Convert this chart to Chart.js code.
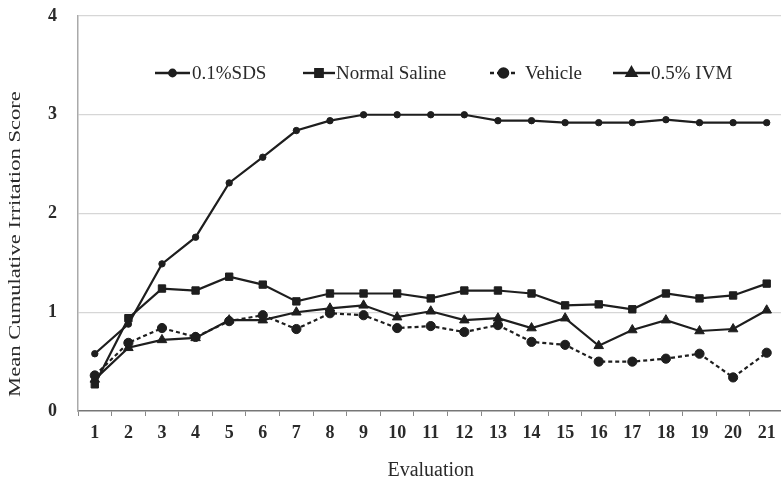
<!DOCTYPE html>
<html>
<head>
<meta charset="utf-8">
<script src="https://cdn.jsdelivr.net/npm/chart.js@4/dist/chart.umd.min.js"></script>
<style>
  html, body { margin: 0; padding: 0; background: #fff; overflow: hidden; }
  #wrap { width: 781px; height: 486px; overflow: hidden; }
</style>
</head>
<body>
<div id="wrap"><canvas id="irritation" width="790" height="486"></canvas></div>
<script>
const evaluations = ["1", "2", "3", "4", "5", "6", "7", "8", "9", "10", "11", "12", "13", "14", "15", "16", "17", "18", "19", "20", "21"];

const sds = [0.58, 0.88, 1.49, 1.76, 2.31, 2.57, 2.84, 2.94, 3.0, 3.0, 3.0, 3.0, 2.94, 2.94, 2.92, 2.92, 2.92, 2.95, 2.92, 2.92, 2.92];
const saline = [0.27, 0.94, 1.24, 1.22, 1.36, 1.28, 1.11, 1.19, 1.19, 1.19, 1.14, 1.22, 1.22, 1.19, 1.07, 1.08, 1.03, 1.19, 1.14, 1.17, 1.29];
const vehicle = [0.36, 0.69, 0.84, 0.75, 0.91, 0.97, 0.83, 0.99, 0.97, 0.84, 0.86, 0.80, 0.87, 0.70, 0.67, 0.50, 0.50, 0.53, 0.58, 0.34, 0.59];
const ivm = [0.32, 0.64, 0.72, 0.74, 0.92, 0.92, 1.00, 1.04, 1.07, 0.95, 1.01, 0.92, 0.94, 0.84, 0.94, 0.66, 0.82, 0.92, 0.81, 0.83, 1.02];

const yTicks = [0, 1, 2, 3, 4];
const yTitle = "Mean Cumulative Irritation Score";

const ink = "#1e1e1e";
const serif = "'Liberation Serif', 'DejaVu Serif', serif";

// legend drawn inside the plot area, like the original figure
const insideLegend = {
  id: "insideLegend",
  afterDraw(chart) {
    const ctx = chart.ctx;
    const y = 73;
    const items = [
      { ds: 0, x: 155, w: 35, gap: 2 },
      { ds: 1, x: 303, w: 32, gap: 1 },
      { ds: 2, x: 490, w: 27, gap: 8 },
      { ds: 3, x: 613, w: 37, gap: 1 },
    ];
    ctx.save();
    ctx.font = "19px " + serif;
    ctx.textBaseline = "middle";
    items.forEach((it) => {
      const ds = chart.data.datasets[it.ds];
      ctx.strokeStyle = ink;
      ctx.lineWidth = 2.4;
      ctx.setLineDash(ds.borderDash || []);
      ctx.beginPath();
      ctx.moveTo(it.x, y);
      ctx.lineTo(it.x + it.w, y);
      ctx.stroke();
      ctx.setLineDash([]);
      ctx.fillStyle = ink;
      Chart.helpers.drawPoint(ctx, {
        pointStyle: ds.pointStyle,
        radius: ds.pointRadius,
        borderWidth: 1,
      }, it.x + it.w / 2, y);
      ctx.fillStyle = "#2a2a2a";
      ctx.fillText(ds.label, it.x + it.w + it.gap, y + 1);
    });
    ctx.restore();
  },
};

// rotated y title, drawn a bit stretched along its length as in the scan
const yTitlePlugin = {
  id: "yTitlePlugin",
  afterDraw(chart) {
    const ctx = chart.ctx;
    ctx.save();
    ctx.translate(16, 244);
    ctx.rotate(-Math.PI / 2);
    ctx.scale(1.33, 1);
    ctx.font = "17px " + serif;
    ctx.fillStyle = "#2a2a2a";
    ctx.textAlign = "center";
    ctx.textBaseline = "middle";
    ctx.fillText(yTitle, 0, 0);
    ctx.restore();
  },
};

function series(label, data, style, radius, dash) {
  return {
    label: label,
    data: data,
    borderColor: ink,
    backgroundColor: ink,
    borderWidth: 2.2,
    borderDash: dash,
    pointStyle: style,
    pointRadius: radius,
    pointBorderWidth: 1,
    pointBorderColor: ink,
    pointBackgroundColor: ink,
    tension: 0,
  };
}

new Chart(document.getElementById("irritation").getContext("2d"), {
  type: "line",
  data: {
    labels: evaluations,
    datasets: [
      series("0.1%SDS", sds, "circle", 3.2, []),
      series("Normal Saline", saline, "rect", 5.2, []),
      series("Vehicle", vehicle, "circle", 4.6, [4, 3]),
      series("0.5% IVM", ivm, "triangle", 5.5, []),
    ],
  },
  options: {
    responsive: false,
    animation: false,
    layout: { padding: { top: 16, right: 3, left: 0, bottom: 0 } },
    plugins: { legend: { display: false }, tooltip: { enabled: false } },
    scales: {
      x: {
        type: "category",
        offset: true,
        grid: {
          offset: true,
          drawOnChartArea: false,
          drawTicks: true,
          tickLength: 5,
          color: "#888",
        },
        border: { color: "#777", width: 1.5 },
        ticks: {
          color: "#2a2a2a",
          font: { family: serif, size: 18, weight: "bold" },
          padding: 7,
          maxRotation: 0,
          autoSkip: false,
        },
        title: {
          display: true,
          text: "Evaluation",
          color: "#2a2a2a",
          font: { family: serif, size: 20 },
          padding: { top: 2, bottom: 3 },
        },
        afterFit(scale) { scale.height = 75; },
      },
      y: {
        min: 0,
        max: 4,
        afterBuildTicks(scale) { scale.ticks = yTicks.map((v) => ({ value: v })); },
        grid: {
          color: (c) => (c.tick && c.tick.value === 0 ? "rgba(0,0,0,0)" : "#d6d6d6"),
          lineWidth: 1.3,
          drawTicks: false,
        },
        border: { color: "#aaa", width: 1.5 },
        ticks: {
          color: "#2a2a2a",
          font: { family: serif, size: 18, weight: "bold" },
          padding: 21,
        },
        afterFit(scale) {
          scale.width = 78;
          scale.paddingTop = 8;
          scale.paddingBottom = 8;
        },
      },
    },
  },
  plugins: [insideLegend, yTitlePlugin],
});
</script>
</body>
</html>
